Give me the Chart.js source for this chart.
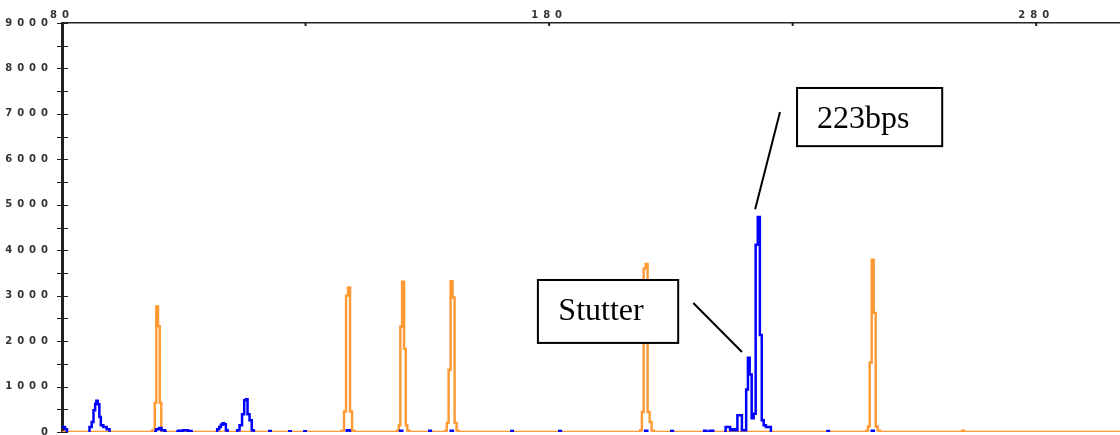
<!DOCTYPE html>
<html>
<head>
<meta charset="utf-8">
<script src="https://cdn.jsdelivr.net/npm/chart.js@4.4.1/dist/chart.umd.min.js"></script>
<style>
  html, body { margin: 0; padding: 0; background: #fff; }
</style>
</head>
<body>
<canvas id="chart" width="1120" height="435"></canvas>
<script>
// ---------------------------------------------------------------------------
// Data (size in bp on x, signal in RFU on y)
// ---------------------------------------------------------------------------
const X_MIN = 80, X_MAX = 297.2;
const Y_MAX = 9000;
const xTickValues = [80, 130, 180, 230, 280];

// orange trace = size standard peaks
const orangeBp = [
  80,
  98.07, 98.89, 99.20, 99.51, 99.92, 100.23, 100.53, 101.15,
  137.08, 137.70, 138.11, 138.52, 138.93, 139.34, 139.75, 140.37,
  148.58, 148.99, 149.30, 149.61, 150.02, 150.43, 150.74, 151.05, 151.66,
  158.44, 158.85, 159.16, 159.57, 159.98, 160.39, 160.80, 161.21, 161.72,
  198.48, 198.89, 199.20, 199.61, 200.02, 200.43, 200.84, 201.25, 201.77,
  244.89, 245.30, 245.61, 246.02, 246.43, 246.84, 247.25, 247.66, 248.17,
  264.6, 265.0, 265.4,
  297.2
];
const orangeRfu = [
  0,
  0, 30, 640, 2760, 2330, 640, 30, 0,
  0, 30, 450, 3000, 3180, 450, 30, 0,
  0, 30, 150, 2320, 3310, 1830, 150, 30, 0,
  0, 30, 200, 1370, 3320, 2960, 200, 30, 0,
  0, 40, 440, 3600, 3700, 440, 220, 30, 0,
  0, 30, 120, 1530, 3790, 2620, 120, 30, 0,
  0, 30, 0,
  0
];

// blue trace = sample; null breaks the line between bumps
const blueBp = [
  80, 80.41, 80.82, 81.23, 83,
  85.40, 85.89, 86.30, 86.63, 86.98, 87.13, 87.54, 87.80, 88.15, 88.83, 89.51, 90.00, 95,
  98.89, 99.71, 100.12, 100.74, 101.56, 102.5,
  103.41, 104.23, 105.46, 106.28, 106.90, 109,
  111.62, 112.09, 112.44, 112.79, 113.12, 113.47, 113.82, 114.19, 115,
  115.73, 116.20, 116.69, 117.23, 117.58, 117.93, 118.25, 118.75, 119.16, 119.63, 121,
  122.4, 122.71, 123.0, 125,
  126.5, 126.82, 127.1, 128,
  129.6, 129.9, 130.2, 134,
  138.2, 138.73, 139.4, 144,
  149.2, 149.61, 150.1, 152,
  155.2, 155.56, 155.9, 158,
  159.6, 160.0, 160.5, 166,
  172.1, 172.4, 172.7, 177,
  181.9, 182.26, 182.6, 190,
  199.5, 199.92, 200.4, 203,
  204.9, 205.26, 205.6, 209,
  211.6, 212.03, 212.5, 213.47, 213.9, 215,
  215.93, 216.55, 216.96, 217.37, 217.89, 218.40, 218.91, 219.32, 219.84, 220.25,
  220.66, 220.97, 221.38, 221.79, 222.20, 222.61, 223.06, 223.47, 223.84, 224.25,
  224.76, 225.28, 225.79, 230,
  237.0, 237.29, 237.6, 242,
  246.0, 246.43, 246.9
];
const blueRfu = [
  110, 110, 60, 0, null,
  0, 110, 220, 480, 620, 685, 610, 330, 150, 110, 60, 0, null,
  0, 60, 90, 40, 0, null,
  0, 30, 40, 20, 0, null,
  0, 60, 110, 160, 190, 170, 40, 0, null,
  0, 40, 150, 390, 700, 720, 390, 260, 40, 0, null,
  0, 20, 0, null,
  0, 15, 0, null,
  0, 15, 0, null,
  0, 40, 0, null,
  0, 30, 0, null,
  0, 25, 0, null,
  0, 30, 0, null,
  0, 20, 0, null,
  0, 20, 0, null,
  0, 25, 0, null,
  0, 20, 0, null,
  0, 25, 0, 30, 0, null,
  0, 110, 110, 40, 60, 40, 370, 370, 40, 40,
  935, 1635, 1265, 300, 400, 4120, 4730, 2135, 260, 150,
  110, 110, 0, null,
  0, 20, 0, null,
  0, 30, 0
];

// callouts: box [x0, x1, yTop, yBottom], text anchor, leader line [x, y, x, y]
const callouts = [
  { text: "223bps", box: [230.9, 260.7, 7570, 6290], textAt: [235.0, 6690], leader: [227.4, 7040, 222.3, 4900] },
  { text: "Stutter", box: [177.7, 206.5, 3345, 1960], textAt: [181.9, 2465], leader: [209.6, 2840, 219.6, 1760] },
];

// ---------------------------------------------------------------------------
// Plugins
// ---------------------------------------------------------------------------
const tickFont = { family: "DejaVu Sans", size: 10, weight: "bold" };

// the original tick labels are very wide, spread them out
const spacing = {
  id: "spacing",
  beforeDraw(chart) { chart.ctx.letterSpacing = "5px"; }
};

const tickMarks = {
  id: "tickMarks",
  afterDraw(chart) {
    const { ctx, scales: { x, y } } = chart;
    ctx.save();
    ctx.strokeStyle = "#222";
    ctx.lineWidth = 1;
    for (const t of y.ticks) {
      const py = Math.round(y.getPixelForValue(t.value)) + 0.5;
      ctx.beginPath();
      ctx.moveTo(y.right - 5, py);
      ctx.lineTo(y.right + 6, py);
      ctx.stroke();
    }
    ctx.fillStyle = "#222";
    for (const v of xTickValues) {
      const px = x.getPixelForValue(v);
      ctx.fillRect(px - 1, x.bottom - 1, 2, 4);
    }
    ctx.restore();
  }
};

const calloutBoxes = {
  id: "calloutBoxes",
  afterDraw(chart) {
    const { ctx, scales: { x, y } } = chart;
    ctx.save();
    ctx.letterSpacing = "0px";
    ctx.strokeStyle = "#000";
    ctx.lineWidth = 2;
    for (const c of callouts) {
      const x0 = x.getPixelForValue(c.box[0]), x1 = x.getPixelForValue(c.box[1]);
      const y0 = y.getPixelForValue(c.box[2]), y1 = y.getPixelForValue(c.box[3]);
      ctx.fillStyle = "#fff";
      ctx.fillRect(x0, y0, x1 - x0, y1 - y0);
      ctx.strokeRect(x0, y0, x1 - x0, y1 - y0);
      ctx.fillStyle = "#000";
      ctx.font = '32px "Liberation Serif", "Times New Roman", serif';
      ctx.textBaseline = "alphabetic";
      ctx.fillText(c.text, x.getPixelForValue(c.textAt[0]), y.getPixelForValue(c.textAt[1]));
      ctx.beginPath();
      ctx.moveTo(x.getPixelForValue(c.leader[0]), y.getPixelForValue(c.leader[1]));
      ctx.lineTo(x.getPixelForValue(c.leader[2]), y.getPixelForValue(c.leader[3]));
      ctx.stroke();
    }
    ctx.restore();
  }
};

// ---------------------------------------------------------------------------
// Chart
// ---------------------------------------------------------------------------
const toPoints = (xs, ys) => xs.map((v, i) => ({ x: v, y: ys[i] }));

new Chart(document.getElementById("chart"), {
  type: "line",
  data: {
    datasets: [
      {
        label: "Sample",
        data: toPoints(blueBp, blueRfu),
        borderColor: "#0000ff",
        borderWidth: 2.5,
        pointRadius: 0,
        stepped: "middle",
        spanGaps: false,
      },
      {
        label: "Size standard",
        data: toPoints(orangeBp, orangeRfu),
        borderColor: "#ff9933",
        borderWidth: 2.4,
        pointRadius: 0,
        stepped: "middle",
      }
    ]
  },
  options: {
    responsive: false,
    animation: false,
    layout: { padding: { top: 0, right: 0, bottom: 3, left: 0 } },
    plugins: { legend: { display: false }, tooltip: { enabled: false } },
    scales: {
      x: {
        type: "linear",
        position: "top",
        min: X_MIN,
        max: X_MAX,
        afterBuildTicks: s => { s.ticks = xTickValues.map(v => ({ value: v })); },
        afterFit: s => { s.height = 23; s.paddingLeft = 0; s.paddingRight = 0; },
        ticks: {
          autoSkip: false,
          maxRotation: 0,
          padding: -6,
          font: tickFont,
          color: "#333",
          callback: v => ((v - 80) % 100 === 0 ? String(v) : ""),
        },
        grid: { display: false },
        border: { display: true, color: "#222", width: 1.5 },
      },
      y: {
        min: 0,
        max: Y_MAX,
        afterFit: s => { s.width = 62; s.paddingTop = 0; s.paddingBottom = 0; },
        ticks: {
          stepSize: 500,
          autoSkip: false,
          padding: 1,
          font: tickFont,
          color: "#333",
          callback: v => (v % 1000 === 0 ? String(v) : ""),
        },
        grid: { display: false },
        border: { display: true, color: "#222", width: 3 },
      }
    }
  },
  plugins: [spacing, tickMarks, calloutBoxes]
});
</script>
</body>
</html>
